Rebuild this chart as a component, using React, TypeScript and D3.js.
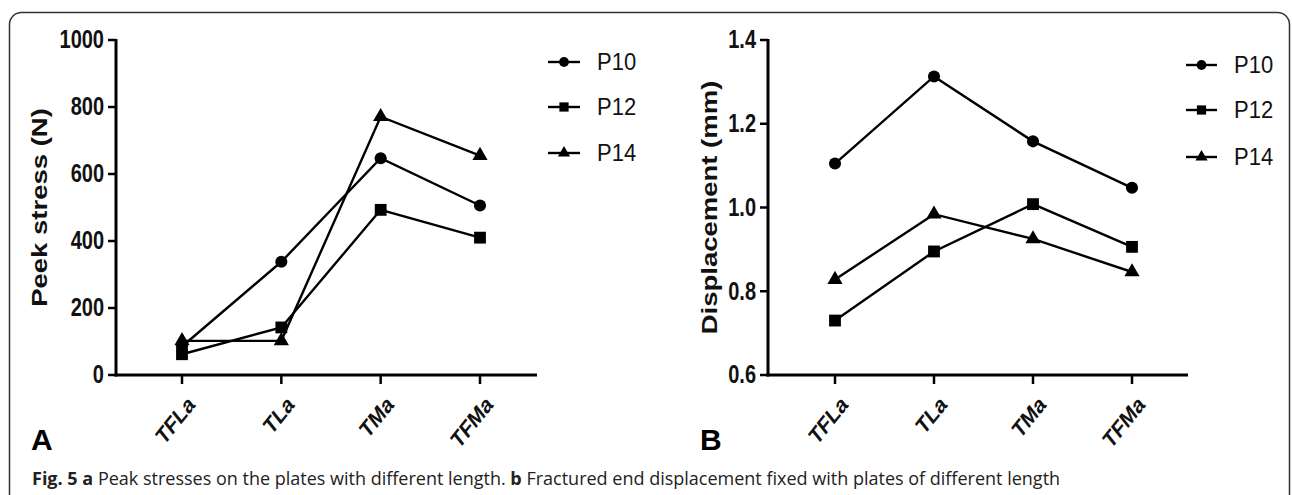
import React from "react";
import * as d3 from "d3";

const categories = ["TFLa", "TLa", "TMa", "TFMa"];
const seriesNames = ["P10", "P12", "P14"];
const seriesSymbols = ["circle", "square", "triangle"];

const stressP10 = [85, 338, 647, 506];
const stressP12 = [62, 142, 493, 410];
const stressP14 = [102, 102, 771, 655];
const stressTicks = [0, 200, 400, 600, 800, 1000];

const dispP10 = [1.105, 1.313, 1.158, 1.047];
const dispP12 = [0.73, 0.895, 1.008, 0.906];
const dispP14 = [0.828, 0.984, 0.925, 0.846];
const dispTicks = [0.6, 0.8, 1.0, 1.2, 1.4];

const SY = 1.25;
const Y_BOTTOM = 375;
const Y_TOP = 40;
const FONT = "'Liberation Sans', Arial, sans-serif";

const symbolTypes: Record<string, d3.SymbolType> = {
  circle: d3.symbolCircle,
  square: d3.symbolSquare,
  triangle: d3.symbolTriangle,
};
const symbolSize: Record<string, number> = { circle: 115, square: 140, triangle: 100 };
const legendSize: Record<string, number> = { circle: 75, square: 85, triangle: 65 };

type Layout = {
  axisX: number;
  axisEnd: number;
  x0: number;
  x1: number;
  legLine0: number;
  legLine1: number;
  legText: number;
  legY: number[];
  labelX: number;
  letterX: number;
};

function Panel(props: {
  layout: Layout;
  domain: [number, number];
  ticks: number[];
  fmt: (n: number) => string;
  series: number[][];
  label: string;
  letter: string;
}) {
  const { layout, domain, ticks, fmt, series, label, letter } = props;
  const x = d3.scalePoint<string>().domain(categories).range([layout.x0, layout.x1]);
  const y = d3.scaleLinear().domain(domain).range([Y_BOTTOM, Y_TOP]);
  const line = d3
    .line<number>()
    .x((_, i) => x(categories[i]) as number)
    .y((d) => y(d));

  return (
    <g>
      {/* y axis */}
      <line x1={layout.axisX} x2={layout.axisX} y1={Y_TOP - 1} y2={Y_BOTTOM + 1.5} stroke="#000" strokeWidth={3} />
      {ticks.map((t) => (
        <g key={t}>
          <line x1={layout.axisX - 8} x2={layout.axisX} y1={y(t)} y2={y(t)} stroke="#000" strokeWidth={2.5} />
          <text
            transform={`translate(${layout.axisX - 12},${y(t)}) scale(1,${SY})`}
            textAnchor="end"
            dominantBaseline="central"
            fontFamily={FONT}
            fontWeight="bold"
            fontSize={20}
            fill="#111"
          >
            {fmt(t)}
          </text>
        </g>
      ))}
      {/* x axis */}
      <line x1={layout.axisX - 1.5} x2={layout.axisEnd} y1={Y_BOTTOM} y2={Y_BOTTOM} stroke="#000" strokeWidth={3} />
      {categories.map((c) => (
        <g key={c}>
          <line x1={x(c)} x2={x(c)} y1={Y_BOTTOM} y2={Y_BOTTOM + 9} stroke="#000" strokeWidth={2.5} />
          <text
            transform={`translate(${(x(c) as number) + 14},${Y_BOTTOM + 31}) scale(1,${SY}) rotate(-45)`}
            textAnchor="end"
            fontFamily={FONT}
            fontWeight="bold"
            fontSize={19}
            fill="#111"
          >
            {c}
          </text>
        </g>
      ))}
      {/* y label */}
      <text
        transform={`translate(${layout.labelX},${(Y_TOP + Y_BOTTOM) / 2}) scale(1,${SY}) rotate(-90)`}
        textAnchor="middle"
        dominantBaseline="central"
        fontFamily={FONT}
        fontWeight="bold"
        fontSize={22}
        fill="#111"
      >
        {label}
      </text>
      {/* lines */}
      {series.map((s, i) => (
        <path key={i} d={line(s) as string} fill="none" stroke="#000" strokeWidth={2.4} />
      ))}
      {/* markers */}
      {series.map((s, i) =>
        s.map((v, j) => (
          <path
            key={`${i}-${j}`}
            transform={`translate(${x(categories[j])},${y(v)})`}
            d={d3.symbol(symbolTypes[seriesSymbols[i]], symbolSize[seriesSymbols[i]])() as string}
            fill="#000"
          />
        ))
      )}
      {/* legend */}
      {seriesNames.map((n, i) => (
        <g key={n}>
          <line
            x1={layout.legLine0}
            x2={layout.legLine1}
            y1={layout.legY[i]}
            y2={layout.legY[i]}
            stroke="#000"
            strokeWidth={2.4}
          />
          <path
            transform={`translate(${(layout.legLine0 + layout.legLine1) / 2},${layout.legY[i]})`}
            d={d3.symbol(symbolTypes[seriesSymbols[i]], legendSize[seriesSymbols[i]])() as string}
            fill="#000"
          />
          <text
            transform={`translate(${layout.legText},${layout.legY[i]}) scale(1,1.1)`}
            dominantBaseline="central"
            fontFamily={FONT}
            fontSize={22}
            fill="#111"
          >
            {n}
          </text>
        </g>
      ))}
      {/* panel letter */}
      <text x={layout.letterX} y={450} fontFamily={FONT} fontWeight="bold" fontSize={30} fill="#000">
        {letter}
      </text>
    </g>
  );
}

const layoutA: Layout = {
  axisX: 116,
  axisEnd: 537,
  x0: 182,
  x1: 480,
  legLine0: 548,
  legLine1: 580,
  legText: 597,
  legY: [62, 107, 153],
  labelX: 39,
  letterX: 31,
};

const layoutB: Layout = {
  axisX: 768,
  axisEnd: 1188,
  x0: 835,
  x1: 1132,
  legLine0: 1186,
  legLine1: 1217,
  legText: 1234,
  legY: [65, 110, 157],
  labelX: 709,
  letterX: 700,
};

export default function App() {
  const fmt1 = d3.format(".1f");
  const fmt0 = d3.format("d");
  return (
    <svg
      width={1292}
      height={495}
      style={{ position: "absolute", left: 0, top: 0, background: "#fff" }}
    >
      <rect x={0} y={0} width={1292} height={495} fill="#fff" />
      <rect x={9.5} y={12.5} width={1280} height={500} rx={12} fill="none" stroke="#333" strokeWidth={1.5} />
      <Panel
        layout={layoutA}
        domain={[0, 1000]}
        ticks={stressTicks}
        fmt={fmt0}
        series={[stressP10, stressP12, stressP14]}
        label="Peek stress (N)"
        letter="A"
      />
      <Panel
        layout={layoutB}
        domain={[0.6, 1.4]}
        ticks={dispTicks}
        fmt={fmt1}
        series={[dispP10, dispP12, dispP14]}
        label="Displacement (mm)"
        letter="B"
      />
      <text x={32} y={485} fontFamily="'Open Sans', sans-serif" fontSize={18} fill="#222">
        <tspan fontWeight="bold">Fig. 5 a</tspan>
        <tspan> Peak stresses on the plates with different length. </tspan>
        <tspan fontWeight="bold">b</tspan>
        <tspan> Fractured end displacement fixed with plates of different length</tspan>
      </text>
    </svg>
  );
}
